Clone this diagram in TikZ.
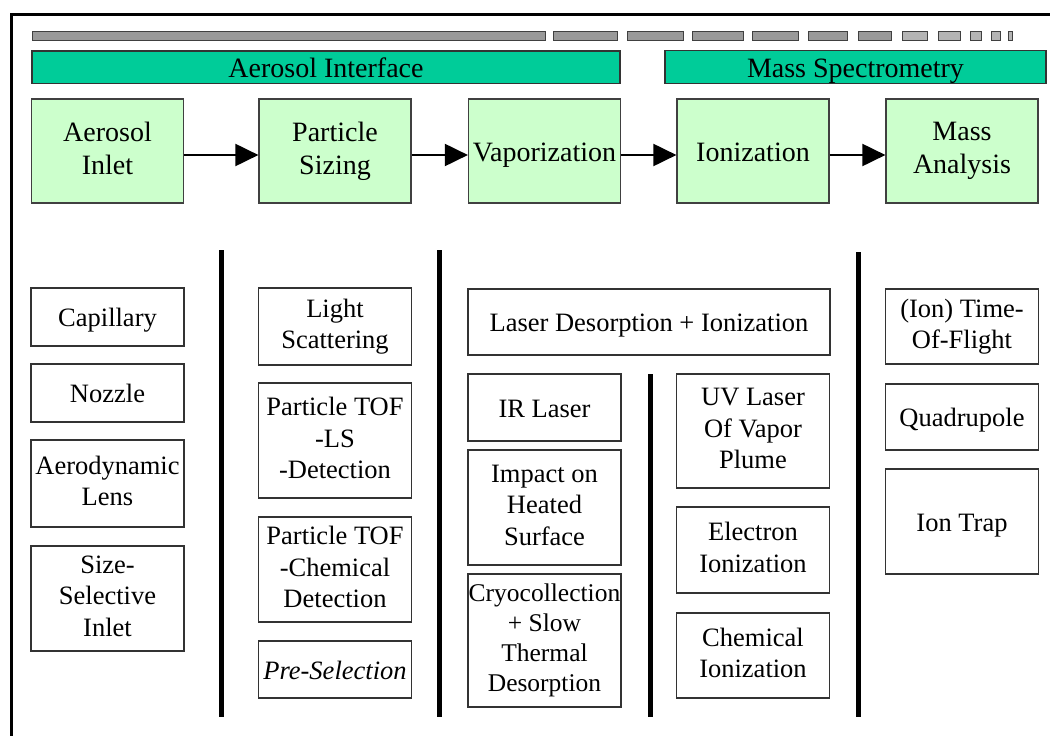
\documentclass[tikz,border=0pt]{standalone}
\usepackage{fontspec}
\setmainfont{Liberation Serif}
\usepackage{xcolor}
\usepackage{tikz}
\usetikzlibrary{arrows.meta}

\definecolor{bargreen}{RGB}{0,204,153}
\definecolor{stagegreen}{RGB}{204,255,204}
\definecolor{segdark}{RGB}{153,153,153}
\definecolor{seglight}{RGB}{180,180,180}
\newcommand{\pad}{\rule[-0.2em]{0pt}{1.15em}}

\tikzset{
  even/.style={execute at begin node=\pad, execute at end node=\pad},
  stage/.style={even, draw=black!75, line width=1.2pt, fill=stagegreen, minimum width=152pt, minimum height=104pt, inner sep=1pt, align=center, font=\fontsize{28}{33}\selectfont},
  method/.style={even, draw=black!80, line width=1.2pt, fill=white, minimum width=153pt, inner sep=1pt, align=center, font=\fontsize{26.5}{31.5}\selectfont},
  header/.style={even, draw=black!80, line width=1.2pt, fill=bargreen, minimum height=32pt, inner sep=0pt, font=\fontsize{28}{33}\selectfont},
  divider/.style={line width=5pt},
  flow/.style={line width=2pt, -{Triangle[length=23pt,width=22pt]}}
}

\begin{document}
\begin{tikzpicture}[x=1pt, y=-1pt]
\useasboundingbox (0,0) rectangle (1050,736);
\def\ca{107.5}
\def\cb{335}
\def\cc{544.5}
\def\cd{753}
\def\ce{962}
\def\row{151}

\draw[line width=3pt] (11,736) -- (11,14) -- (1050,14); %frame%

% progress bar on top %
\foreach \a/\b/\c in {32/545/segdark, 553/617/segdark, 627/683/segdark, 692/743/segdark, 752/798/segdark, 808/847/segdark, 858/891/segdark, 902/927/seglight, 938/960/seglight, 970/981/seglight, 991/1000/seglight, 1008/1012/seglight}
  \draw[fill=\c, draw=black!75, line width=1pt] (\a,31) rectangle (\b,40);

\node[header, minimum width=588pt] (interface) at (326,67) {Aerosol Interface};
\node[header, minimum width=381pt] (spectro) at (855.5,67) {Mass Spectrometry};

% main stages %
\node[stage] (inlet) at (\ca,\row) {Aerosol\\Inlet};
\node[stage] (sizing) at (\cb,\row) {Particle\\Sizing};
\node[stage] (vapor) at (\cc,\row) {Vaporization};
\node[stage] (ioniz) at (\cd,\row) {Ionization};
\node[stage] (mass) at (\ce,\row) {Mass\\Analysis};
\foreach \s/\t in {inlet/sizing, sizing/vapor, vapor/ioniz, ioniz/mass}
  \draw[flow] ([yshift=-4pt]\s.east) -- ([yshift=-4pt]\t.west);

% separators %
\draw[divider] (221.5,250) -- (221.5,717);
\draw[divider] (439.5,250) -- (439.5,717);
\draw[divider] (650,374) -- (650,717);
\draw[divider] (858,252) -- (858,717);

% inlet methods %
\node[method, minimum height=58pt] (capillary) at (\ca,317) {Capillary};
\node[method, minimum height=58pt] (nozzle) at (\ca,393) {Nozzle};
\node[method, minimum height=87pt] (lens) at (\ca,483.5) {Aerodynamic\\Lens};
\node[method, minimum height=105pt] (selective) at (\ca,598.5) {Size-\\Selective\\Inlet};

% sizing methods %
\node[method, minimum height=77pt] (scatter) at (\cb,326.5) {Light\\Scattering};
\node[method, minimum height=115pt] (tofls) at (\cb,440.5) {Particle TOF\\-LS\\-Detection};
\node[method, minimum height=105pt] (tofchem) at (\cb,569.5) {Particle TOF\\-Chemical\\Detection};
\node[method, minimum height=57pt] (presel) at (\cb,669.5) {\textit{Pre-Selection}};

% vaporization and ionization methods %
\node[method, minimum width=362pt, minimum height=66pt] (ldi) at (649,322) {Laser Desorption + Ionization};
\node[method, minimum height=67pt] (irlaser) at (\cc,407.5) {IR Laser};
\node[method, minimum height=115pt] (impact) at (\cc,507.5) {Impact on\\Heated\\Surface};
\node[method, minimum height=133pt, inner sep=0pt, font=\fontsize{25.5}{30}\selectfont] (cryo) at (\cc,640.5) {Cryocollection\\+ Slow\\Thermal\\Desorption};
\node[method, minimum height=114pt] (uvlaser) at (\cd,431) {UV Laser\\Of Vapor\\Plume};
\node[method, minimum height=86pt] (electron) at (\cd,550) {Electron\\Ionization};
\node[method, minimum height=85pt] (chemical) at (\cd,655.5) {Chemical\\Ionization};

% analyzers %
\node[method, minimum height=75pt] (tof) at (\ce,326.5) {(Ion) Time-\\Of-Flight};
\node[method, minimum height=66pt] (quad) at (\ce,417) {Quadrupole};
\node[method, minimum height=105pt] (trap) at (\ce,521.5) {Ion Trap};
\end{tikzpicture}
\end{document}
